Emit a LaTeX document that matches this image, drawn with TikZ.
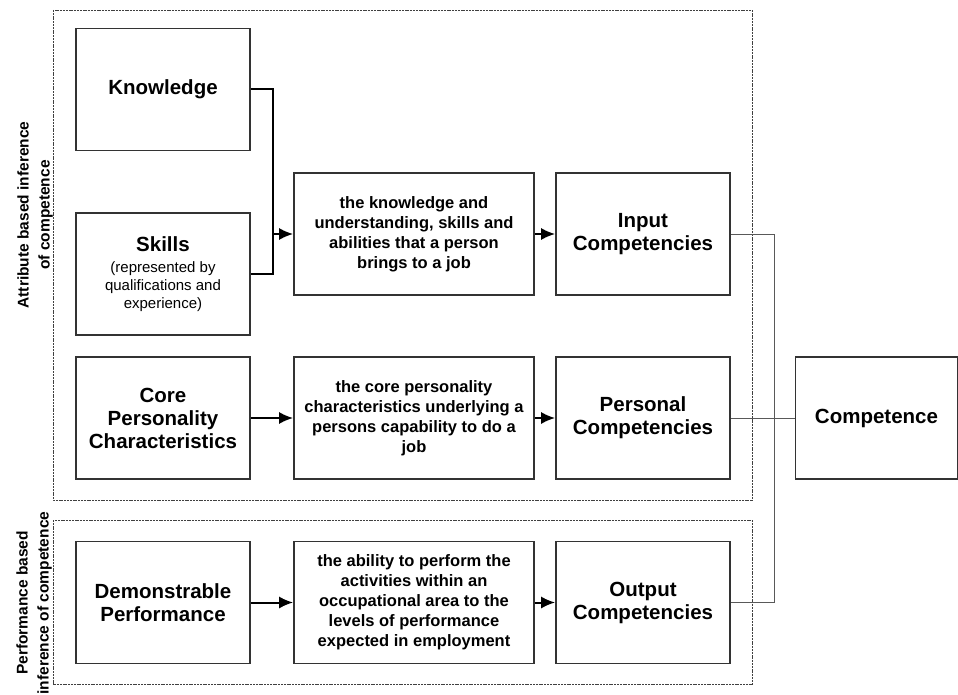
\documentclass[tikz,border=0pt]{standalone}
\usepackage{fontspec}
\setmainfont{Liberation Sans}
\usepackage{tikz}
\usetikzlibrary{arrows,arrows.meta,positioning,calc}
\tikzset{>={Latex[length=14pt,width=12pt]}}
\tikzset{
  box/.style={draw=black!80, line width=1.6pt, minimum width=174pt, minimum height=122pt, align=center, inner sep=2pt,
    font=\fontsize{20.5}{23}\selectfont\bfseries},
  textbox/.style={box, minimum width=240pt, font=\fontsize{16.5}{20}\selectfont\bfseries},
  frame/.style={draw=black!75, line width=0.7pt, dash pattern=on 2pt off 0.8pt},
  sidelabel/.style={rotate=90, align=center, font=\fontsize{15.5}{21}\selectfont\bfseries}
}
\newcommand{\subtxt}[1]{{\fontsize{15}{17}\selectfont\mdseries #1}}

\begin{document}
\begin{tikzpicture}[x=1pt,y=-1pt]
\useasboundingbox (0,0) rectangle (958,695);
% groups
\draw[frame] (53,10) rectangle (752,500);
\draw[frame] (53,520) rectangle (752,684);
\node[sidelabel] (attrib) at (35,215) {Attribute based inference\\of competence};
\node[sidelabel] (perf) at (34,603) {Performance based\\inference of competence};
% boxes
\node[box] (know) at (163,89.5) {Knowledge};
\node[box] (skills) at (163,274) {Skills\\[-2pt]\subtxt{(represented by}\\[-5pt]\subtxt{qualifications and}\\[-5pt]\subtxt{experience)}};
\node[box] (core) at (163,418) {Core\\Personality\\Characteristics};
\node[box] (demo) at (163,602.5) {Demonstrable\\Performance};
\node[textbox] (kdesc) at (414,234) {the knowledge and\\understanding, skills and\\abilities that a person\\brings to a job};
\node[textbox] (cdesc) at (414,418) {the core personality\\characteristics underlying a\\persons capability to do a\\job};
\node[textbox] (pdesc) at (414,602.5) {the ability to perform the\\activities within an\\occupational area to the\\levels of performance\\expected in employment};
\node[box] (input) at (643,234) {Input\\Competencies};
\node[box] (personal) at (643,418) {Personal\\Competencies};
\node[box] (output) at (643,602.5) {Output\\Competencies};
\node[box, minimum width=162pt] (comp) at (876.5,418) {Competence};
\coordinate (kjoin) at (273,0);
\coordinate (bus) at (774,0);
\begin{scope}[line width = 2pt]
\draw (know.east) -| (kjoin |- skills.east) -- (skills.east);
\draw[->] (kjoin |- kdesc.west) to (kdesc.west);
\draw[->] (kdesc) to (input);
\draw[->] (core) to (cdesc);
\draw[->] (cdesc) to (personal);
\draw[->] (demo) to (pdesc);
\draw[->] (pdesc) to (output);
\end{scope}
\begin{scope}[line width = 1pt, color=black!65]
\draw (input.east) -| (bus |- output.east) -- (output.east);
\draw (personal) to (comp);
\end{scope}
%\draw[help lines] (0,0) grid (958,695);
\end{tikzpicture}
\end{document}
